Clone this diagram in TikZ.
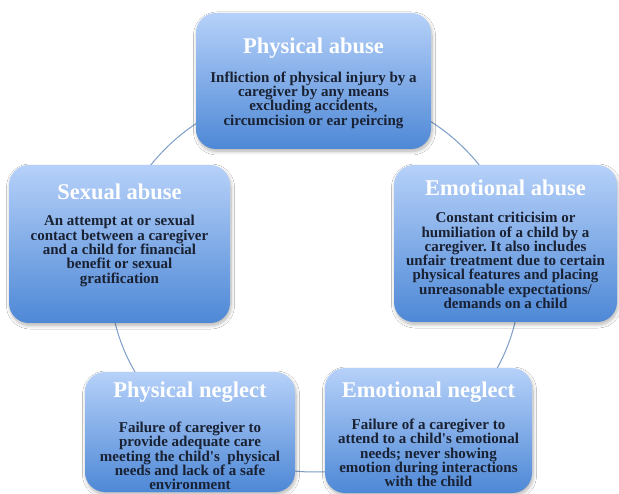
\documentclass[tikz,border=0pt]{standalone}
\usepackage{fontspec}
\setmainfont{Liberation Serif}
\usetikzlibrary{shadows.blur}
\definecolor{boxtop}{RGB}{182,209,249}
\definecolor{boxbot}{RGB}{78,136,214}
\definecolor{txtdark}{RGB}{25,33,50}
\definecolor{ringcol}{RGB}{125,158,200}
\frenchspacing
\begin{document}
\begin{tikzpicture}[x=1pt,y=-1pt,
  card/.style={rounded corners=20pt, top color=boxtop, bottom color=boxbot, draw=none, inner sep=0pt,
    blur shadow={shadow blur steps=8, shadow xshift=1pt, shadow yshift=-2.5pt, shadow opacity=30, shadow blur radius=3.5pt}},
  ttl/.style={text=white, font=\bfseries\fontsize{22.5}{24}\selectfont, inner sep=0pt},
  bodytxt/.style={text=txtdark, font=\bfseries\fontsize{15}{14.3}\selectfont, align=center, inner sep=0pt},
  ring/.style={draw=ringcol, line width=1pt}]
\useasboundingbox (0,0) rectangle (619,494);
\fill[white] (0,0) rectangle (619,494);
\coordinate (ctr) at (315,280);
\draw[ring] (ctr) ellipse [x radius=205, y radius=192];

\node[card, minimum width=235, minimum height=136] (pa) at (313.5,81) {};
\node[ttl] (pat) at (313.5,48) {Physical abuse};
\node[bodytxt] (pab) at (313.5,100) {Infliction of physical injury by a\\caregiver by any means\\excluding accidents,\\circumcision or ear peircing};

\node[card, minimum width=221, minimum height=158] (sa) at (119.5,244) {};
\node[ttl] (sat) at (119.5,192) {Sexual abuse};
\node[bodytxt] (sab) at (119.5,251) {An attempt at or sexual\\contact between a caregiver\\and a child for financial\\benefit or sexual\\gratification};

\node[card, minimum width=223, minimum height=157] (ea) at (505.5,243.5) {};
\node[ttl] (eat) at (505.5,188) {Emotional abuse};
\node[bodytxt] (eab) at (505.5,260.5) {Constant criticisim or\\humiliation of a child by a\\caregiver. It also includes\\unfair treatment due to certain\\physical features and placing\\unreasonable expectations/\\demands on a child};

\node[card, minimum width=210, minimum height=120] (pn) at (190,432) {};
\node[ttl] (pnt) at (190,392) {Physical neglect};
\node[bodytxt] (pnb) at (190,456) {Failure of caregiver to\\provide adequate care\\meeting the child\textquotesingle s\ \ physical\\needs and lack of a safe\\environment};

\node[card, minimum width=207, minimum height=125] (en) at (428.5,430.5) {};
\node[ttl] (ent) at (428.5,392) {Emotional neglect};
\node[bodytxt] (enb) at (428.5,453) {Failure of a caregiver to\\attend to a child\textquotesingle s emotional\\needs; never showing\\emotion during interactions\\with the child};
\end{tikzpicture}
\end{document}
